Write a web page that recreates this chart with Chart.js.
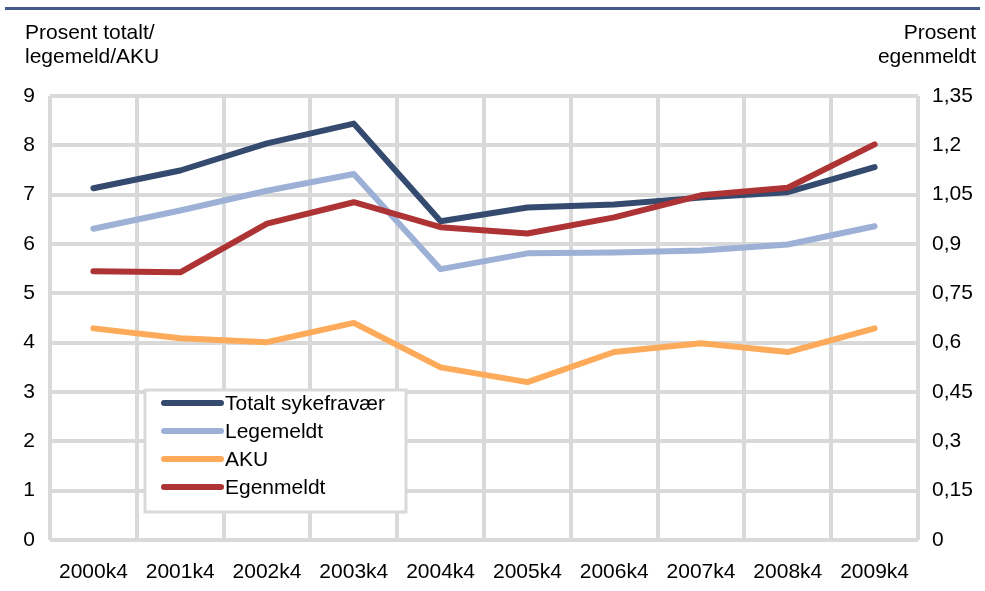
<!DOCTYPE html>
<html>
<head>
<meta charset="utf-8">
<script src="https://cdn.jsdelivr.net/npm/chart.js@4.4.1/dist/chart.umd.min.js"></script>
<style>
  body { margin: 0; background: #fff; }
  #wrap { width: 985px; height: 591px; }
</style>
</head>
<body>
<div id="wrap"><canvas id="c" width="985" height="591"></canvas></div>
<script>
// data
const categories = ['2000k4', '2001k4', '2002k4', '2003k4', '2004k4', '2005k4', '2006k4', '2007k4', '2008k4', '2009k4'];
const totalt    = [7.13, 7.49, 8.04, 8.44, 6.46, 6.74, 6.80, 6.94, 7.05, 7.56];
const legemeldt = [6.31, 6.68, 7.08, 7.42, 5.49, 5.81, 5.83, 5.87, 5.99, 6.36];
const aku       = [4.29, 4.09, 4.01, 4.40, 3.50, 3.20, 3.81, 3.99, 3.81, 4.29];
const egenmeldt = [0.817, 0.814, 0.962, 1.027, 0.951, 0.932, 0.981, 1.048, 1.071, 1.203];
const leftTicks  = [0, 1, 2, 3, 4, 5, 6, 7, 8, 9];
const rightTicks = [0, 0.15, 0.3, 0.45, 0.6, 0.75, 0.9, 1.05, 1.2, 1.35];
const seriesNames = ['Totalt sykefravær', 'Legemeldt', 'AKU', 'Egenmeldt'];

const colors = ['#344a6f', '#9db0d6', '#fdab5b', '#ad3335'];
const FONT = "'Liberation Sans', Arial, sans-serif";
const FSIZE = 21;
const GRID = '#d9d9d9';

Chart.defaults.font.family = FONT;
Chart.defaults.font.size = FSIZE;
Chart.defaults.color = '#000';

function lineDs(label, data, i, axis, order) {
  return {
    label: label, data: data, yAxisID: axis, order: order,
    borderColor: colors[i], backgroundColor: colors[i],
    borderWidth: 6, pointRadius: 0, tension: 0,
    borderCapStyle: 'round', borderJoinStyle: 'round', fill: false
  };
}

// titles, top rule and the boxed legend
const decor = {
  id: 'decor',
  beforeDraw(chart) {
    const ctx = chart.ctx;
    ctx.save();
    ctx.fillStyle = '#44598c';
    ctx.fillRect(5, 7, 975, 3);
    ctx.fillStyle = '#000';
    ctx.font = FSIZE + 'px ' + FONT;
    ctx.textBaseline = 'alphabetic';
    ctx.textAlign = 'left';
    ctx.fillText('Prosent totalt/', 25, 39);
    ctx.fillText('legemeld/AKU', 25, 63);
    ctx.textAlign = 'right';
    ctx.fillText('Prosent', 976, 39);
    ctx.fillText('egenmeldt', 976, 63);
    ctx.restore();
  },
  afterDatasetsDraw(chart) {
    const ctx = chart.ctx;
    ctx.save();
    ctx.fillStyle = '#fff';
    ctx.fillRect(145, 390, 261, 122);
    ctx.strokeStyle = GRID;
    ctx.lineWidth = 3;
    ctx.strokeRect(145, 390, 261, 122);
    ctx.font = FSIZE + 'px ' + FONT;
    ctx.textBaseline = 'middle';
    ctx.textAlign = 'left';
    seriesNames.forEach((name, i) => {
      const y = 403 + i * 28;
      ctx.strokeStyle = colors[i];
      ctx.lineWidth = 6;
      ctx.lineCap = 'round';
      ctx.beginPath();
      ctx.moveTo(164, y);
      ctx.lineTo(221, y);
      ctx.stroke();
      ctx.fillStyle = '#000';
      ctx.fillText(name, 225, y + 1);
    });
    ctx.restore();
  }
};

new Chart(document.getElementById('c'), {
  type: 'line',
  data: {
    labels: categories,
    datasets: [
      lineDs(seriesNames[0], totalt, 0, 'y', 1),
      lineDs(seriesNames[1], legemeldt, 1, 'y', 2),
      lineDs(seriesNames[2], aku, 2, 'y', 3),
      lineDs(seriesNames[3], egenmeldt, 3, 'y1', 0)
    ]
  },
  options: {
    responsive: false,
    animation: false,
    devicePixelRatio: 1,
    layout: { padding: { top: 96, left: 0, right: 0, bottom: 0 } },
    plugins: { legend: { display: false }, tooltip: { enabled: false } },
    scales: {
      x: {
        offset: true,
        grid: { offset: true, color: GRID, lineWidth: 4, drawTicks: false },
        border: { display: false },
        ticks: { padding: 20, maxRotation: 0, autoSkip: false },
        afterFit(s) { s.height = 51; }
      },
      y: {
        position: 'left', min: 0, max: 9,
        grid: { color: GRID, lineWidth: 4, drawTicks: false },
        border: { display: false },
        ticks: { padding: 15 },
        afterBuildTicks(s) { s.ticks = leftTicks.map(v => ({ value: v })); },
        afterFit(s) { s.width = 50; }
      },
      y1: {
        position: 'right', min: 0, max: 1.35,
        grid: { drawOnChartArea: false, drawTicks: false },
        border: { display: false },
        ticks: { padding: 14, callback: v => String(v).replace('.', ',') },
        afterBuildTicks(s) { s.ticks = rightTicks.map(v => ({ value: v })); },
        afterFit(s) { s.width = 67; }
      }
    }
  },
  plugins: [decor]
});
</script>
</body>
</html>
